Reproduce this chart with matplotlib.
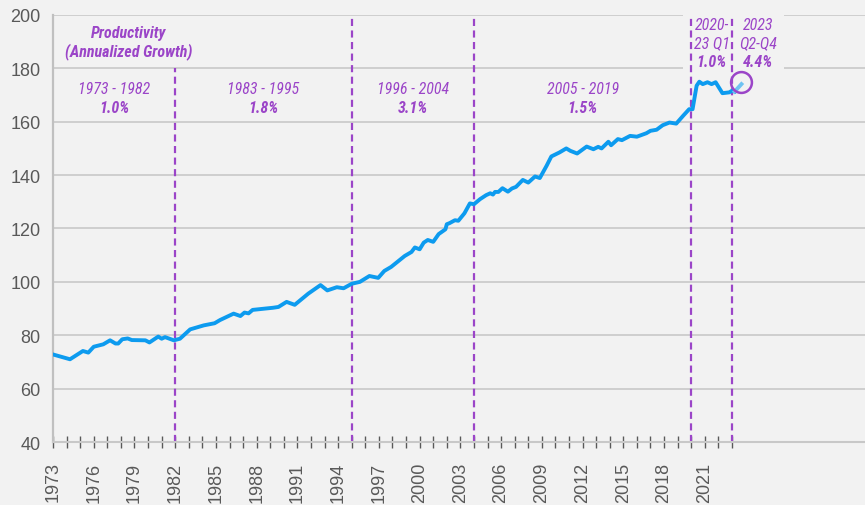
import matplotlib.pyplot as plt
from matplotlib import font_manager
from matplotlib.patches import Rectangle

# productivity index (year as decimal, index value)
years = [1973.0, 1974.25, 1975.2, 1975.6, 1976.0, 1976.7, 1977.2, 1977.6, 1977.8, 1978.1,
         1978.5, 1978.8, 1979.8, 1980.1, 1980.75, 1981.0, 1981.25, 1981.9, 1982.35, 1983.1,
         1984.1, 1984.9, 1985.3, 1986.3, 1986.8, 1987.1, 1987.4, 1987.7, 1989.2, 1989.6,
         1990.2, 1990.8, 1991.3, 1991.8, 1992.7, 1993.2, 1993.9, 1994.4, 1995.0, 1995.6,
         1996.3, 1996.95, 1997.4, 1997.9, 1998.9, 1999.4, 1999.65, 2000.0, 2000.3, 2000.6,
         2001.0, 2001.4, 2001.9, 2002.0, 2002.2, 2002.6, 2002.85, 2003.3, 2003.7, 2004.0,
         2004.45, 2004.9, 2005.2, 2005.4, 2005.55, 2005.8, 2006.1, 2006.5, 2006.8, 2007.1,
         2007.6, 2008.0, 2008.5, 2008.85, 2009.35, 2009.7, 2010.3, 2010.8, 2011.1, 2011.6,
         2012.3, 2012.8, 2013.15, 2013.4, 2013.9, 2014.1, 2014.6, 2014.9, 2015.5, 2016.0,
         2016.7, 2017.0, 2017.45, 2017.9, 2018.4, 2018.9, 2019.4, 2019.85, 2020.1, 2020.4,
         2020.6, 2020.85, 2021.2, 2021.5, 2021.8, 2022.3, 2022.8, 2023.0, 2023.2]
values = [72.8, 71.0, 74.1, 73.5, 75.7, 76.6, 78.1, 76.9, 76.9, 78.5,
          78.8, 78.2, 78.1, 77.3, 79.5, 78.7, 79.3, 78.1, 78.7, 82.2,
          83.7, 84.5, 85.7, 88.1, 87.2, 88.5, 88.2, 89.5, 90.3, 90.6,
          92.5, 91.4, 93.5, 95.6, 98.8, 96.8, 98.0, 97.6, 99.3, 100.0,
          102.2, 101.5, 104.1, 105.6, 109.7, 111.2, 112.9, 112.2, 114.7, 115.7,
          115.0, 117.9, 119.7, 121.6, 122.0, 123.1, 122.9, 125.7, 129.4, 129.1,
          131.0, 132.5, 133.2, 132.7, 133.7, 133.7, 135.1, 133.8, 135.0, 135.6,
          138.2, 137.2, 139.5, 138.9, 143.5, 147.0, 148.5, 150.0, 149.1, 148.1,
          150.7, 149.7, 150.6, 150.0, 152.5, 151.2, 153.5, 153.1, 154.7, 154.4,
          155.7, 156.6, 157.0, 158.7, 159.7, 159.3, 162.2, 164.7, 164.7, 173.5,
          175.0, 174.1, 174.8, 174.1, 174.8, 170.7, 171.0, 171.6, 171.3]

# 2023 Q2-Q4 extension (lighter segment) and the highlight circle
proj_years = [2023.2, 2023.7]
proj_values = [171.3, 174.1]
circle_point = (2023.66, 175.0)

# period boundaries and labels
breaks = [1982, 1995, 2004, 2020, 2023]
break_tops = [180, 200, 200, 200, 200]
periods = ['1973 - 1982', '1983 - 1995', '1996 - 2004', '2005 - 2019']
period_rates = ['1.0%', '1.8%', '3.1%', '1.5%']
period_centers = [1977.5, 1988.5, 1999.5, 2012.0]
recent_line1 = ['2020-', '2023']
recent_line2 = ['23 Q1', 'Q2-Q4']
recent_rates = ['1.0%', '4.4%']
recent_centers = [2021.5, 2024.9]

bg = '#f2f2f2'
purple = '#9b45c8'
blue = '#0d9bef'
grey_txt = '#595959'

plt.rcParams['font.family'] = ['Liberation Sans', 'DejaVu Sans']

# the annotations use a condensed face; fall back to a smaller regular one
narrow = None
for fam in ['Liberation Sans Narrow', 'Roboto Condensed', 'DejaVu Sans Condensed',
            'Open Sans Condensed']:
    try:
        font_manager.findfont(font_manager.FontProperties(family=fam),
                              fallback_to_default=False)
        narrow = fam
        break
    except ValueError:
        pass
if narrow:
    note_family, note_size = [narrow, 'Liberation Sans'], 11.5
else:
    note_family, note_size = ['Liberation Sans'], 9.8

fig = plt.figure(figsize=(8.65, 5.06), dpi=100, facecolor=bg)
ax = fig.add_axes([0.0613, 0.1245, 0.9387, 0.8439], facecolor=bg)

ax.set_xlim(1973, 2032.8)
ax.set_ylim(40, 200)
ax.set_yticks(range(40, 201, 20))
ax.yaxis.grid(True, color='#c8c8c8', lw=1.2, zorder=0)
ax.set_axisbelow(True)
ax.tick_params(axis='y', length=0, pad=9, labelsize=13, labelcolor=grey_txt)

ax.set_xticks(range(1973, 2024))
ax.set_xticklabels([str(y) if (y - 1973) % 3 == 0 else '' for y in range(1973, 2024)],
                   rotation=90)
ax.tick_params(axis='x', direction='inout', length=8, width=1, color=grey_txt,
               pad=10, labelsize=13, labelcolor=grey_txt)

for side in ['top', 'right']:
    ax.spines[side].set_visible(False)
ax.spines['left'].set_color('#c0c0c0')
ax.spines['left'].set_linewidth(1.6)
ax.spines['bottom'].set_color('#c8c8c8')
ax.spines['bottom'].set_linewidth(1.5)

# box behind the two recent-period labels hides the gridlines there
ax.add_patch(Rectangle((2019.4, 178.5), 7.4, 22, facecolor=bg, edgecolor='none',
                       zorder=1, clip_on=False))

for x, top in zip(breaks, break_tops):
    ax.plot([x, x], [40, top], color=purple, lw=1.6, dashes=(3.2, 2), zorder=2)

ax.plot(years, values, color=blue, lw=2.8, zorder=3, solid_joinstyle='round')
ax.plot(proj_years, proj_values, color='#6ec3f2', lw=2.8, zorder=3)
ax.plot(*circle_point, marker='o', ms=15, mfc='none', mec=purple, mew=1.8, zorder=4)

note = dict(ha='center', va='center', color=purple, fontsize=note_size,
            style='italic', family=note_family, zorder=5)

ax.text(1978.6, 193.6, 'Productivity', fontweight='bold', **note)
ax.text(1978.6, 186.6, '(Annualized Growth)', fontweight='bold', **note)

for lab, rate, cx in zip(periods, period_rates, period_centers):
    ax.text(cx, 172.6, lab, **note)
    ax.text(cx, 165.5, rate, fontweight='bold', **note)

for l1, l2, rate, cx in zip(recent_line1, recent_line2, recent_rates, recent_centers):
    ax.text(cx, 196.6, l1, **note)
    ax.text(cx, 189.8, l2, **note)
    ax.text(cx, 182.6, rate, fontweight='bold', **note)

fig.savefig('out.png', dpi=100, facecolor=bg)
